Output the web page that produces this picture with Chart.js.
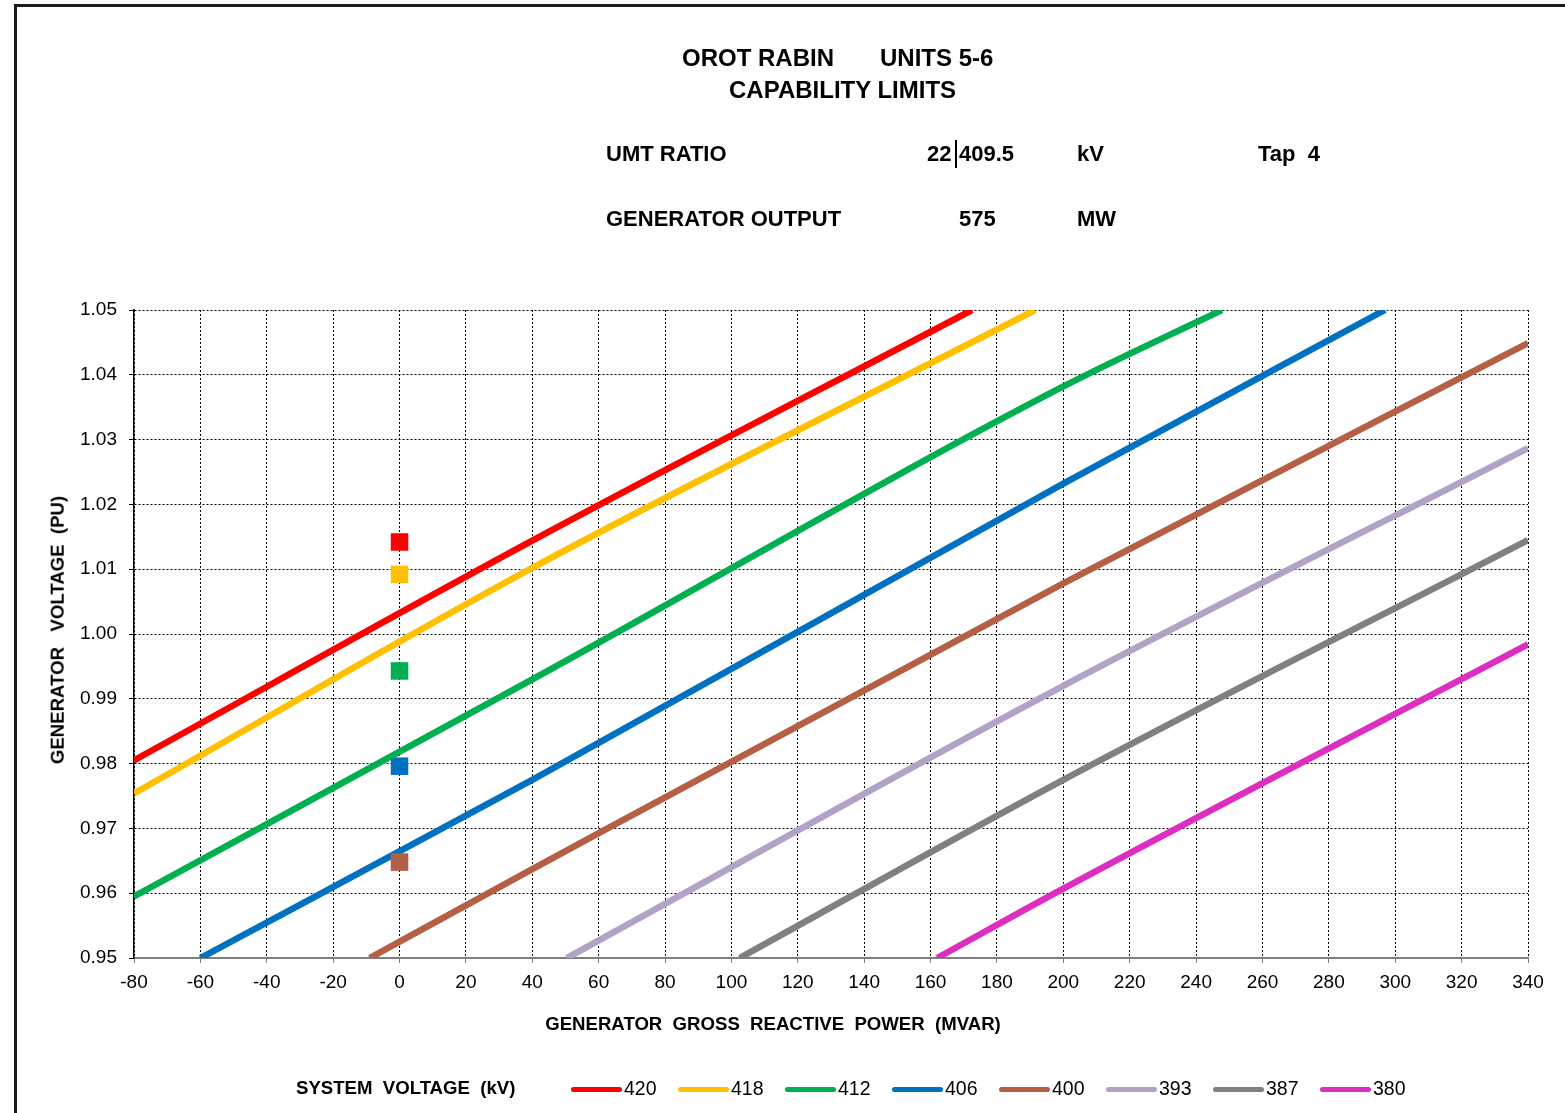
<!DOCTYPE html>
<html lang="en">
<head>
  <meta charset="UTF-8">
  <title>Orot Rabin Units 5-6 - Capability Limits</title>
  <style>
    body {
      margin: 0;
      background: #fff;
      font-family: "Liberation Sans", Arial, sans-serif;
      color: #000;
    }

    #page {
      position: relative;
      width: 1565px;
      height: 1113px;
      overflow: hidden;
    }

    #frame {
      position: absolute;
      left: 14px;
      top: 4px;
      width: 1700px;
      height: 1300px;
      border-top: 3px solid #1b1b1b;
      border-left: 3px solid #1b1b1b;
    }

    #chart {
      position: absolute;
      left: 0;
      top: 0;
    }

    .txt {
      position: absolute;
      white-space: pre;
      font-weight: bold;
      line-height: 1;
    }

    .title { font-size: 24px; }
    .head { font-size: 22px; }
    .axis { font-size: 18.6px; }

    #ratioBar {
      position: absolute;
      left: 955px;
      top: 140px;
      width: 2px;
      height: 28px;
      background: #000;
    }

    #yTitle {
      position: absolute;
      left: 58px;
      top: 630px;
      transform: translate(-50%, -50%) rotate(-90deg);
    }

    #xTitle {
      position: absolute;
      left: 773px;
      top: 1024px;
      transform: translate(-50%, -50%);
    }

    .leg-item {
      position: absolute;
      top: 1079px;
      height: 20px;
      display: flex;
      align-items: center;
    }

    .leg-line {
      width: 51px;
      height: 5px;
      border-radius: 3px;
      margin-right: 2px;
    }

    .leg-label {
      font-size: 19.5px;
      line-height: 1;
    }
  </style>
  <script src="https://cdn.jsdelivr.net/npm/chart.js"></script>
</head>
<body>
<div id="page">
  <div id="frame"></div>
  <canvas id="chart" width="1565" height="1113"></canvas>

  <div class="txt title" style="left:682px; top:45.5px;">OROT RABIN</div>
  <div class="txt title" style="left:880px; top:45.5px;">UNITS 5-6</div>
  <div class="txt title" style="left:729px; top:77.5px;">CAPABILITY LIMITS</div>

  <div class="txt head" style="left:606px; top:143px;">UMT RATIO</div>
  <div class="txt head" style="left:927px; top:143px;">22</div>
  <div id="ratioBar"></div>
  <div class="txt head" style="left:959px; top:143px;">409.5</div>
  <div class="txt head" style="left:1077px; top:143px;">kV</div>
  <div class="txt head" style="left:1258px; top:143px;">Tap  4</div>

  <div class="txt head" style="left:606px; top:207.5px;">GENERATOR OUTPUT</div>
  <div class="txt head" style="left:959px; top:207.5px;">575</div>
  <div class="txt head" style="left:1077px; top:207.5px;">MW</div>

  <div id="yTitle" class="txt axis">GENERATOR   VOLTAGE  (PU)</div>
  <div id="xTitle" class="txt axis">GENERATOR  GROSS  REACTIVE  POWER  (MVAR)</div>

  <div class="txt axis" style="left:296px; top:1079px;">SYSTEM  VOLTAGE  (kV)</div>
  <div id="legend"></div>
</div>

<script>
  // axis ticks
  const xTicks = [-80, -60, -40, -20, 0, 20, 40, 60, 80, 100, 120, 140, 160, 180, 200, 220, 240, 260, 280, 300, 320, 340];
  const yTicks = [0.95, 0.96, 0.97, 0.98, 0.99, 1.00, 1.01, 1.02, 1.03, 1.04, 1.05];

  // system voltage curves (kV) and their colours
  const systemKV = ['420', '418', '412', '406', '400', '393', '387', '380'];
  const curveColors = ['#ff0000', '#ffc000', '#00b050', '#0070c0', '#b55f44', '#b3a2c7', '#808080', '#dd2ebf'];

  // reactive power (MVAR) / generator voltage (PU) along each curve
  const q420 = [-80, 40, 172.5];
  const v420 = [0.9805, 1.0144, 1.05];
  const q418 = [-80, 40, 191.5];
  const v418 = [0.9754, 1.0102, 1.05];
  const q412 = [-80, 40, 200, 247.8];
  const v412 = [0.9595, 0.9930, 1.0382, 1.05];
  const q406 = [-60, 40, 200, 296.9];
  const v406 = [0.95, 0.9775, 1.0232, 1.05];
  const q400 = [-9, 40, 200, 340];
  const v400 = [0.95, 0.9637, 1.0078, 1.0449];
  const q393 = [50.4, 200, 340];
  const v393 = [0.95, 0.9920, 1.0287];
  const q387 = [102.5, 200, 340];
  const v387 = [0.95, 0.9775, 1.0145];
  const q380 = [162, 200, 340];
  const v380 = [0.95, 0.9607, 0.9984];

  // operating points at zero MVAR
  const markerQ = [0, 0, 0, 0, 0];
  const markerV = [1.0142, 1.0092, 0.9943, 0.9796, 0.9648];
  const markerColors = ['#ff0000', '#ffc000', '#00b050', '#0070c0', '#b05e45'];

  const curveQ = [q420, q418, q412, q406, q400, q393, q387, q380];
  const curveV = [v420, v418, v412, v406, v400, v393, v387, v380];

  const fontFamily = '"Liberation Sans", Arial, sans-serif';

  const datasets = [{
    label: 'operating points',
    data: markerQ.map((q, i) => ({ x: q, y: markerV[i] })),
    showLine: false,
    pointStyle: 'rect',
    pointRadius: 12.4,
    pointBorderWidth: 0,
    pointBackgroundColor: markerColors
  }];

  systemKV.forEach((kv, i) => {
    datasets.push({
      label: kv,
      data: curveQ[i].map((q, j) => ({ x: q, y: curveV[i][j] })),
      showLine: true,
      borderColor: curveColors[i],
      borderWidth: 6.5,
      pointRadius: 0,
      cubicInterpolationMode: 'monotone',
      fill: false,
      clip: 0
    });
  });

  new Chart(document.getElementById('chart'), {
    type: 'scatter',
    data: { datasets: datasets },
    options: {
      responsive: false,
      animation: false,
      layout: { padding: { left: 0, top: 310, right: 37, bottom: 115 } },
      plugins: {
        legend: { display: false },
        tooltip: { enabled: false }
      },
      scales: {
        x: {
          type: 'linear',
          min: -80,
          max: 340,
          afterBuildTicks: s => { s.ticks = xTicks.map(v => ({ value: v })); },
          afterFit: s => { s.height = 40; },
          ticks: {
            color: '#000',
            font: { family: fontFamily, size: 19 },
            padding: 8,
            maxRotation: 0,
            autoSkip: false,
            callback: v => String(v)
          },
          grid: { color: '#000', lineWidth: 1, tickLength: 5, tickColor: '#7f7f7f' },
          border: { color: '#7f7f7f', width: 2, dash: [2, 2] }
        },
        y: {
          type: 'linear',
          min: 0.95,
          max: 1.05,
          afterBuildTicks: s => { s.ticks = yTicks.map(v => ({ value: v })); },
          afterFit: s => { s.width = 134; },
          ticks: {
            color: '#000',
            font: { family: fontFamily, size: 19 },
            padding: 12,
            autoSkip: false,
            callback: v => Number(v).toFixed(2)
          },
          grid: { color: '#000', lineWidth: 1, tickLength: 5, tickColor: '#000' },
          border: { color: '#000', width: 1.5, dash: [2, 2] }
        }
      }
    }
  });

  // legend row under the x axis
  const legend = document.getElementById('legend');
  systemKV.forEach((kv, i) => {
    const item = document.createElement('div');
    item.className = 'leg-item';
    item.style.left = (571 + i * 107) + 'px';
    item.innerHTML = '<div class="leg-line" style="background:' + curveColors[i] + '"></div>' +
                     '<span class="leg-label">' + kv + '</span>';
    legend.appendChild(item);
  });
</script>
</body>
</html>
